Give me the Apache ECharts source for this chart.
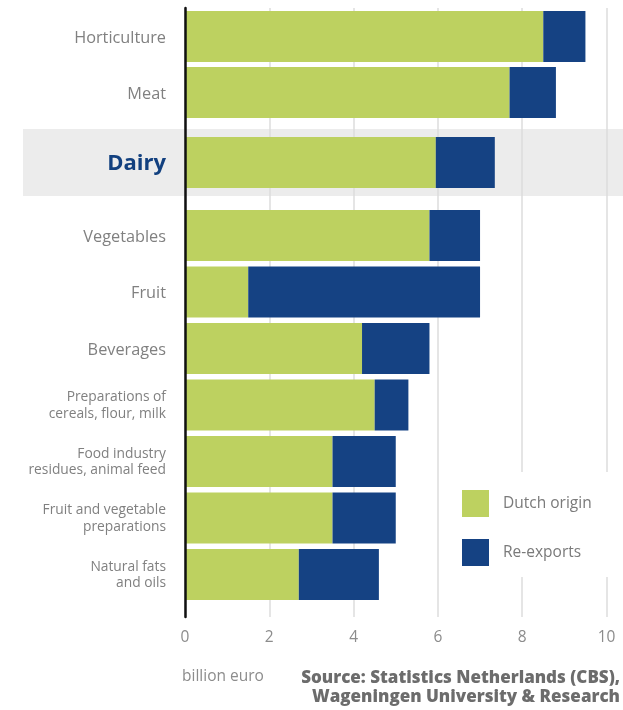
<!DOCTYPE html>
<html>
<head>
<meta charset="utf-8">
<script src="https://cdn.jsdelivr.net/npm/echarts@6/dist/echarts.min.js"></script>
<style>
html,body{margin:0;padding:0;background:#fff;}
#chart{width:623px;height:710px;}
</style>
</head>
<body>
<div id="chart"></div>
<script>
// ---- data ----
var categories = [
  'Horticulture', 'Meat', 'Dairy', 'Vegetables', 'Fruit', 'Beverages',
  'Preparations of\ncereals, flour, milk',
  'Food industry\nresidues, animal feed',
  'Fruit and vegetable\npreparations',
  'Natural fats\nand oils'
];
var dutchOrigin = [8.5, 7.7, 5.95, 5.8, 1.5, 4.2, 4.5, 3.5, 3.5, 2.7];
var reExports   = [1.0, 1.1, 1.4, 1.2, 5.5, 1.6, 0.8, 1.5, 1.5, 1.9];
var xTicks = [0, 2, 4, 6, 8, 10];
var seriesNames = ['Dutch origin', 'Re-exports'];
var highlight = 'Dairy';
// group boundaries (top block, highlighted block, rest)
var groups = [[0, 2], [2, 3], [3, 10]];

// ---- styles ----
var GREEN = '#bdd160';
var BLUE = '#154283';
var FONT = '"Open Sans"';
var LABEL_GREY = '#808080';

var gridBoxes = [
  {top: 8.5, height: 112},
  {top: 134.5, height: 56},
  {top: 207.25, height: 395.5}
];

var grids = [{left: 185, right: 16.5, top: 8, height: 609}];
var xAxes = [{
  gridIndex: 0, type: 'value', min: xTicks[0], max: xTicks[xTicks.length - 1], interval: 2,
  axisLine: {show: false}, axisTick: {show: false},
  splitLine: {show: true, lineStyle: {color: '#dcdcdc', width: 1.5}},
  axisLabel: {margin: 13, color: '#8c8c8c', fontSize: 15.5, fontFamily: FONT},
  z: 1
}];
var yAxes = [{
  gridIndex: 0, type: 'value', min: 0, max: 1,
  axisLine: {show: true, lineStyle: {color: '#111', width: 2.5}},
  axisTick: {show: false}, axisLabel: {show: false}, splitLine: {show: false},
  z: 3
}];
var series = [];

groups.forEach(function (g, i) {
  var gi = i + 1;
  grids.push({left: 185, right: 16.5, top: gridBoxes[i].top, height: gridBoxes[i].height});
  xAxes.push({
    gridIndex: gi, type: 'value', min: xTicks[0], max: xTicks[xTicks.length - 1],
    show: false, splitLine: {show: false}
  });
  yAxes.push({
    gridIndex: gi, type: 'category', inverse: true,
    data: categories.slice(g[0], g[1]),
    axisLine: {show: false}, axisTick: {show: false},
    axisLabel: {
      margin: 19, align: 'right',
      formatter: function (v) {
        if (v === highlight) return '{h|' + v + '}';
        if (v.indexOf('\n') >= 0) return v.split('\n').map(function (l) { return '{s|' + l + '}'; }).join('\n');
        return '{n|' + v + '}';
      },
      rich: {
        n: {fontSize: 16.3, color: LABEL_GREY, fontFamily: FONT, padding: [3, 0, 0, 0]},
        s: {fontSize: 13.8, lineHeight: 16.5, color: LABEL_GREY, fontFamily: FONT, padding: [1, 0, 0, 0]},
        h: {fontSize: 22, fontWeight: 'bold', color: '#12407f', fontFamily: FONT, padding: [3, 0, 0, 0]}
      }
    }
  });
  series.push({
    name: seriesNames[0], type: 'bar', stack: 's' + gi, xAxisIndex: gi, yAxisIndex: gi,
    barWidth: 51, itemStyle: {color: GREEN}, data: dutchOrigin.slice(g[0], g[1]), z: 2,
    emphasis: {disabled: true}
  });
  series.push({
    name: seriesNames[1], type: 'bar', stack: 's' + gi, xAxisIndex: gi, yAxisIndex: gi,
    barWidth: 51, itemStyle: {color: BLUE}, data: reExports.slice(g[0], g[1]), z: 2,
    emphasis: {disabled: true}
  });
});

var chart = echarts.init(document.getElementById('chart'), null, {renderer: 'canvas'});
chart.setOption({
  animation: false,
  backgroundColor: '#fff',
  grid: grids,
  xAxis: xAxes,
  yAxis: yAxes,
  series: series,
  legend: {
    data: seriesNames,
    orient: 'vertical', left: 450, top: 472,
    padding: [18, 20, 11, 12],
    backgroundColor: '#fff',
    icon: 'rect', itemWidth: 27, itemHeight: 27, itemGap: 22,
    selectedMode: false,
    textStyle: {color: '#7a7a7a', fontSize: 15.5, fontFamily: FONT, padding: [0, 0, 0, 9]},
    z: 5
  },
  graphic: [
    {type: 'rect', z: -1, shape: {x: 23, y: 129, width: 600, height: 67}, style: {fill: '#ececec'}},
    {type: 'text', x: 182, y: 669, style: {text: 'billion euro', fill: '#8c8c8c', font: '15.5px ' + FONT}},
    {type: 'text', x: 620, y: 668, style: {
      text: 'Source: Statistics Netherlands (CBS),\nWageningen University & Research',
      fill: '#6c6c6c', font: '800 17px ' + FONT, align: 'right', lineHeight: 19.5
    }}
  ]
});
</script>
</body>
</html>
